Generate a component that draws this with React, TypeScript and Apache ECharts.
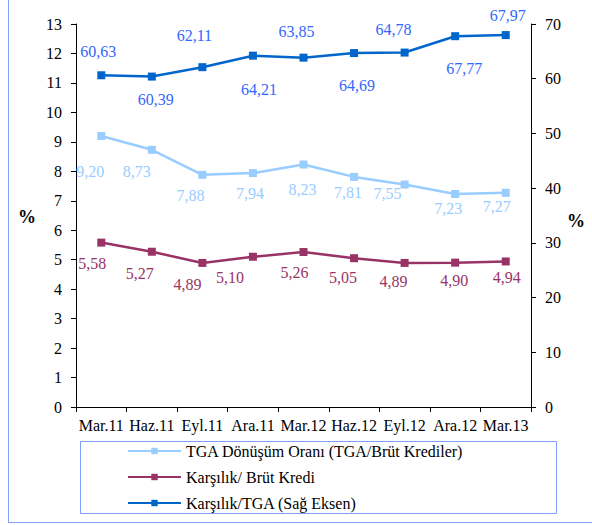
import React, { useEffect, useRef } from "react";
import * as echarts from "echarts";

const categories = ["Mar.11", "Haz.11", "Eyl.11", "Ara.11", "Mar.12", "Haz.12", "Eyl.12", "Ara.12", "Mar.13"];
const tgaDonusum = [9.2, 8.73, 7.88, 7.94, 8.23, 7.81, 7.55, 7.23, 7.27];
const karsilikBrut = [5.58, 5.27, 4.89, 5.1, 5.26, 5.05, 4.89, 4.9, 4.94];
const karsilikTga = [60.63, 60.39, 62.11, 64.21, 63.85, 64.69, 64.78, 67.77, 67.97];
const seriesNames = ["TGA Dönüşüm Oranı (TGA/Brüt Krediler)", "Karşılık/ Brüt Kredi", "Karşılık/TGA (Sağ Eksen)"];

// label placement styling (offset from point, px)
const tgaDonusumLabelOffset = [[-11, 36], [-15, 22], [-12, 21], [-3, 20], [-1, 25], [-6, 16], [-17, 9], [-7, 15], [-9, 14]];
const karsilikBrutLabelOffset = [[-9, 21], [-12, 22], [-15, 22], [-23, 21], [-9, 20], [-11, 19], [-11, 19], [-1, 18], [1, 16]];
const karsilikTgaLabelOffset = [[-3, -24], [4, 23], [-8, -32], [6, 34], [-7, -26], [3, 32], [-11, -23], [9, 32], [2, -20]];

const FONT = "'Liberation Serif', 'Times New Roman', serif";
const fmt = (v: number) => v.toFixed(2).replace(".", ",");

function build(values: number[], offsets: number[][]) {
  return values.map((v, i) => ({
    value: v,
    label: { offset: offsets[i] },
  }));
}

export default function App() {
  const ref = useRef<HTMLDivElement>(null);
  useEffect(() => {
    if (!ref.current) return;
    const chart = echarts.init(ref.current, undefined, { renderer: "svg" });
    const axisLabel = { color: "#000", fontFamily: FONT, fontSize: 16 };
    const lineSeries = (name: string, data: any[], color: string, labelColor: string, yIndex: number, width: number) => ({
      name,
      type: "line",
      yAxisIndex: yIndex,
      data,
      symbol: "rect",
      symbolSize: 8,
      lineStyle: { color, width },
      itemStyle: { color },
      label: {
        show: true,
        position: "inside",
        align: "center",
        verticalAlign: "middle",
        color: labelColor,
        fontFamily: FONT,
        fontSize: 16,
        formatter: (p: any) => fmt(p.value),
      },
    });
    chart.setOption({
      animation: false,
      backgroundColor: "#fff",
      textStyle: { fontFamily: FONT },
      grid: { left: 76, right: 61, top: 24, bottom: 118, containLabel: false },
      xAxis: {
        type: "category",
        data: categories,
        boundaryGap: true,
        axisLine: { lineStyle: { color: "#000", width: 1 } },
        axisTick: { show: true, length: 5, lineStyle: { color: "#000" } },
        axisLabel: { ...axisLabel, margin: 10, interval: 0 },
      },
      yAxis: [
        {
          type: "value",
          min: 0,
          max: 13,
          interval: 1,
          splitLine: { show: false },
          axisLine: { show: true, lineStyle: { color: "#000" } },
          axisTick: { show: true, length: 5, lineStyle: { color: "#000" } },
          axisLabel: { ...axisLabel, margin: 14 },
        },
        {
          type: "value",
          min: 0,
          max: 70,
          interval: 10,
          position: "right",
          splitLine: { show: false },
          axisLine: { show: true, lineStyle: { color: "#000" } },
          axisTick: { show: true, length: 5, lineStyle: { color: "#000" } },
          axisLabel: { ...axisLabel, margin: 14 },
        },
      ],
      legend: {
        orient: "vertical",
        left: 122,
        top: 438,
        itemWidth: 53,
        itemHeight: 8,
        itemGap: 10,
        textStyle: { color: "#000", fontFamily: FONT, fontSize: 16 },
        data: seriesNames,
      },
      series: [
        lineSeries(seriesNames[0], build(tgaDonusum, tgaDonusumLabelOffset), "#99ccff", "#99ccff", 0, 2.5),
        lineSeries(seriesNames[1], build(karsilikBrut, karsilikBrutLabelOffset), "#993366", "#993366", 0, 2.5),
        lineSeries(seriesNames[2], build(karsilikTga, karsilikTgaLabelOffset), "#0066cc", "#3366ff", 1, 2.5),
      ],
      graphic: [
        { type: "rect", shape: { x: 80.5, y: 441.5, width: 476, height: 72 }, style: { fill: "none", stroke: "#7f9fff", lineWidth: 1 }, silent: true },
        { type: "line", shape: { x1: 8.5, y1: 0, x2: 8.5, y2: 522.5 }, style: { stroke: "#7f9fff", lineWidth: 1 }, silent: true },
        { type: "line", shape: { x1: 8, y1: 522.5, x2: 592, y2: 522.5 }, style: { stroke: "#7f9fff", lineWidth: 1 }, silent: true },
        { type: "text", left: 18, top: 208, style: { text: "%", fontFamily: FONT, fontSize: 18, fontWeight: "bold", fill: "#000" } },
        { type: "text", left: 567, top: 212, style: { text: "%", fontFamily: FONT, fontSize: 18, fontWeight: "bold", fill: "#000" } },
      ],
    });
    return () => chart.dispose();
  }, []);
  return <div ref={ref} style={{ position: "fixed", left: 0, top: 0, width: 592, height: 525 }} />;
}
